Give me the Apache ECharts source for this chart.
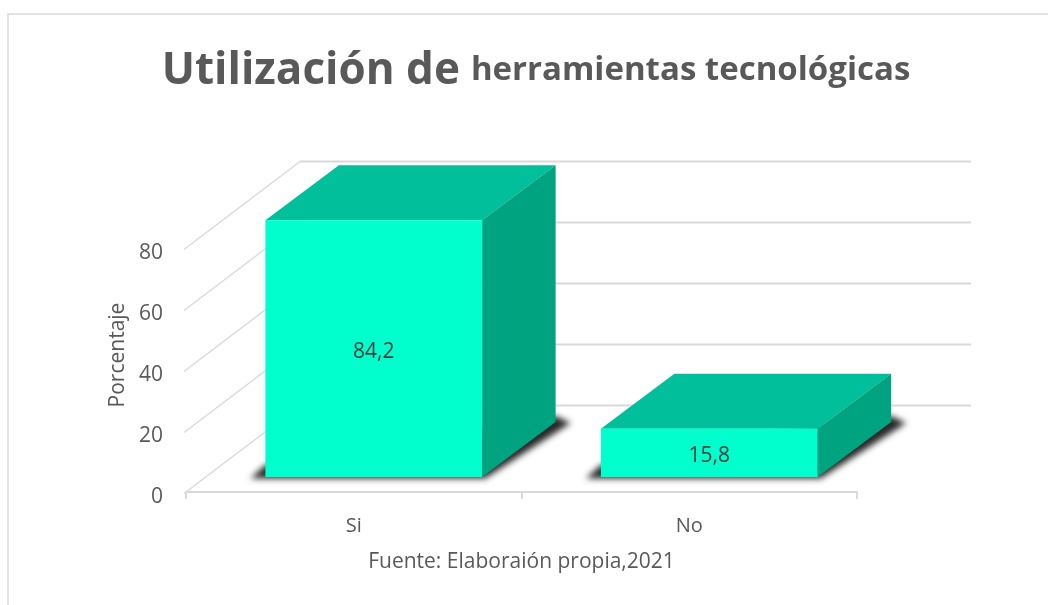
<!DOCTYPE html>
<html>
<head>
<meta charset="utf-8">
<style>html,body{margin:0;padding:0;background:#fff}#c{width:1048px;height:605px}</style>
<script src="https://cdn.jsdelivr.net/npm/echarts@6/dist/echarts.min.js"></script>
</head>
<body>
<div id="c"></div>
<script>
const categories = ['Si', 'No'];
const percentages = [84.2, 15.8];
const yTicks = [0, 20, 40, 60, 80];
const titleLarge = 'Utilización de';
const titleSmall = 'herramientas tecnológicas';
const yAxisName = 'Porcentaje';
const sourceNote = 'Fuente: Elaboraión propia,2021';

const FONT = '"Open Sans"';
const TEXT = '#595959';
const LINE = '#d9d9d9';
const WALL = [114, -86.5];
const BAR_OFFSET = [20, -15];
const BAR_DEPTH = [73.5, -55];
const BAR_WIDTH_RATIO = 0.646;
const GHOST = 3000;

function renderWall(params, api) {
  const p = api.coord([0, api.value(1)]);
  const x0 = params.coordSys.x, w = params.coordSys.width;
  return {
    type: 'group',
    children: [
      { type: 'line', shape: { x1: x0 - 2, y1: p[1] + 1.5, x2: x0 + WALL[0], y2: p[1] + WALL[1] }, style: { stroke: LINE, lineWidth: 1.4 }, silent: true },
      { type: 'line', shape: { x1: x0 + WALL[0], y1: p[1] + WALL[1], x2: x0 + WALL[0] + w, y2: p[1] + WALL[1] }, style: { stroke: LINE, lineWidth: 1.8 }, silent: true }
    ]
  };
}

function renderBar(params, api) {
  const top = api.coord([api.value(0), api.value(1)]);
  const base = api.coord([api.value(0), 0]);
  const w = api.size([1, 0])[0] * BAR_WIDTH_RATIO;
  const l = top[0] - w / 2 + BAR_OFFSET[0], r = l + w;
  const t = top[1] + BAR_OFFSET[1], b = base[1] + BAR_OFFSET[1];
  const dx = BAR_DEPTH[0], dy = BAR_DEPTH[1];
  const g = GHOST;
  return {
    type: 'group',
    children: [
      { type: 'polygon', shape: { points: [[l - 15 - g, b + 1.5], [r + 3 - g, b + 1.5], [r + dx + 15 - g, b + dy + 1], [r + dx - g, b + dy - 6], [l - g, b - 12]] },
        style: { fill: '#333', shadowBlur: 6, shadowColor: 'rgba(40,40,40,1)', shadowOffsetX: g }, silent: true },
      { type: 'polygon', shape: { points: [[l, t], [r, t], [r + dx, t + dy], [l + dx, t + dy]] }, style: { fill: '#00BF9A' }, silent: true },
      { type: 'polygon', shape: { points: [[r, t], [r + dx, t + dy], [r + dx, b + dy], [r, b]] }, style: { fill: '#00A380' }, silent: true },
      { type: 'rect', shape: { x: l, y: t, width: w, height: b - t }, style: { fill: '#00FFCC' }, silent: true },
      { type: 'text', x: (l + r) / 2, y: (t + b) / 2 + 3,
        style: { text: api.value(1).toFixed(1).replace('.', ','), fill: '#404040', font: '21px ' + FONT, align: 'center', verticalAlign: 'middle' }, silent: true }
    ]
  };
}

const chart = echarts.init(document.getElementById('c'), null, { renderer: 'canvas' });
chart.setOption({
  animation: false,
  backgroundColor: '#ffffff',
  title: {
    text: '{a|' + titleLarge + '} {b|' + titleSmall + '}',
    left: 531, top: 44, textAlign: 'center',
    textStyle: {
      rich: {
        a: { fontFamily: FONT, fontWeight: 'bold', fontSize: 44, color: TEXT },
        b: { fontFamily: FONT, fontWeight: 'bold', fontSize: 33, color: TEXT, padding: [0, 0, 0, 6] }
      }
    }
  },
  graphic: [{
    type: 'rect', z: -1, silent: true,
    shape: { x: 8, y: 14, width: 1200, height: 800 },
    style: { fill: null, stroke: LINE, lineWidth: 1.5 }
  }],
  grid: { left: 186, right: 191, top: 248, bottom: 113 },
  xAxis: {
    type: 'category',
    data: categories,
    axisLine: { show: true, lineStyle: { color: LINE, width: 1.8 } },
    axisTick: { show: true, alignWithLabel: false, length: 7, lineStyle: { color: LINE, width: 1.8 } },
    axisLabel: { color: TEXT, fontFamily: FONT, fontSize: 20, margin: 24 },
    name: sourceNote,
    nameLocation: 'middle',
    nameGap: 60,
    nameTextStyle: { color: TEXT, fontFamily: FONT, fontSize: 21 }
  },
  yAxis: {
    type: 'value',
    min: 0, max: 80, interval: 20,
    axisLine: { show: false },
    axisTick: { show: false },
    splitLine: { show: false },
    axisLabel: { color: TEXT, fontFamily: FONT, fontSize: 21, margin: 23, verticalAlign: 'top', lineHeight: 11 },
    name: yAxisName,
    nameLocation: 'middle',
    nameRotate: 90,
    nameGap: 56,
    nameTextStyle: { color: TEXT, fontFamily: FONT, fontSize: 21, padding: [0, 0, 0, 30] }
  },
  series: [
    { type: 'custom', name: 'wall', clip: false, z: 1, silent: true, renderItem: renderWall, data: yTicks.map(v => [0, v]) },
    { type: 'custom', name: 'Porcentaje', clip: false, z: 2, silent: true, renderItem: renderBar, data: percentages.map((v, i) => [i, v]) }
  ]
});
</script>
</body>
</html>
